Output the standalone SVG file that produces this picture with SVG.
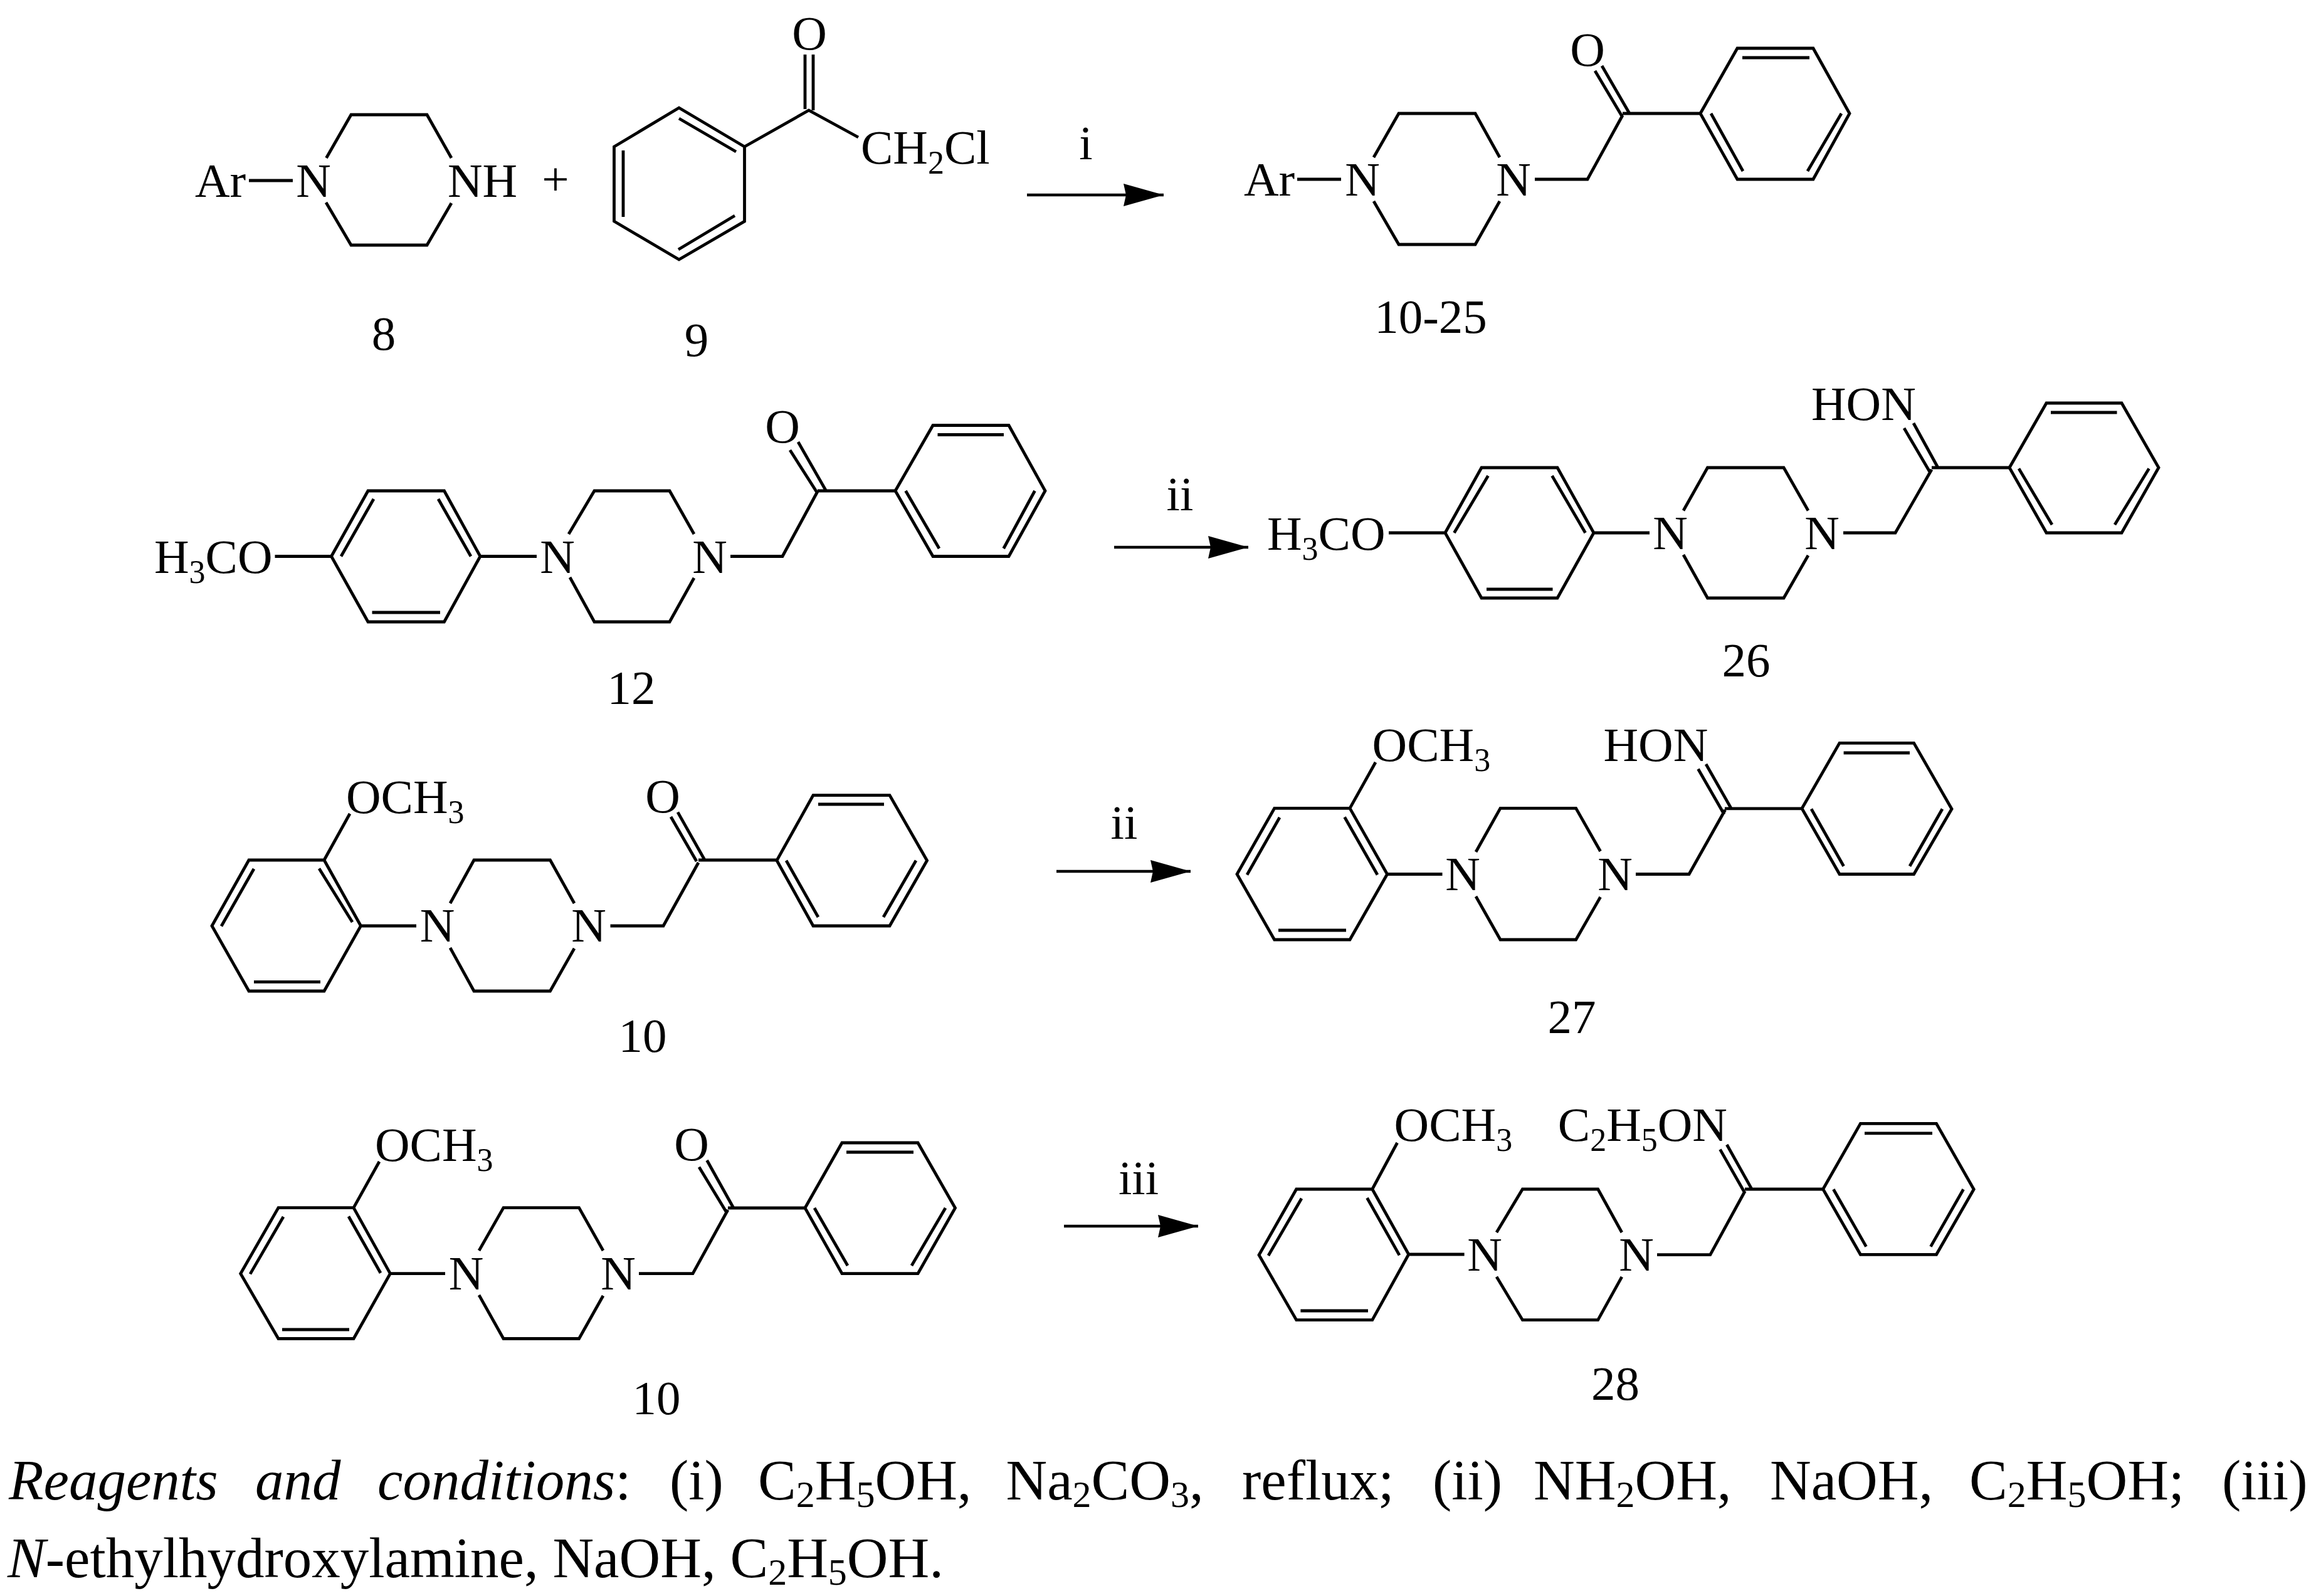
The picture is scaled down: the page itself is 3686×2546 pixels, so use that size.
<svg xmlns="http://www.w3.org/2000/svg" width="3686" height="2546" viewBox="0 0 3686 2546">
<style>
text{font-family:"Liberation Serif","Times New Roman",serif;font-size:77px;fill:#000}
.m{text-anchor:middle}
.s{font-size:52px}
.c{font-size:91px}
.cs{font-size:60px}
.i{font-style:italic}
.b{fill:none;stroke:#000;stroke-width:4.8;stroke-linejoin:miter}
.a{fill:none;stroke:#000;stroke-width:4.6}
</style>
<defs>
<marker id="h" markerUnits="userSpaceOnUse" markerWidth="66" markerHeight="38" viewBox="0 0 66 38" refX="64" refY="18" orient="auto"><path d="M64 18L0 0L4 18L0 36Z" fill="#000"/></marker>
</defs>
<rect width="3686" height="2546" fill="#fff"/>
<g id="connectors">
<path class="a" d="M1638 311H1856" marker-end="url(#h)"/>
<path class="a" d="M1777 873H1991" marker-end="url(#h)"/>
<path class="a" d="M1685 1390H1899" marker-end="url(#h)"/>
<path class="a" d="M1697 1956H1911" marker-end="url(#h)"/>
<text class="m" x="1732" y="254">i</text>
<text class="m" x="1882" y="814">ii</text>
<text class="m" x="1793" y="1338">ii</text>
<text class="m" x="1816" y="1905">iii</text>
</g>
<g id="compound-8">
<path class="b" d="M397 288H467M520.500 252L560 183H681L720 252M520 323L560 391H681L720 324"/>
<text x="311" y="314">Ar</text>
<text class="m" x="500" y="314">N</text>
<text x="714" y="314">NH</text>
<text class="m" x="612" y="558">8</text>
</g>
<text id="plus" class="m" x="886" y="311">+</text>
<g id="compound-9">
<path class="b" d="M1083 172L1187.500 234V353L1083 414L979.500 353V234ZM1083 189L1174 242M994 240V346M1082 398L1172 344M1187.500 234L1290 176L1369 219M1284 87V174M1297 87V176"/>
<text class="m" x="1291" y="79">O</text>
<text x="1373" y="261">CH<tspan class="s" dy="16">2</tspan><tspan dy="-16">Cl</tspan></text>
<text class="m" x="1111" y="568">9</text>
</g>
<g id="compound-10-25">
<path class="b" d="M2069 286H2139M2191 251L2231 181H2353L2392 251M2191 321L2231 390H2353L2392 321M2448 286H2532L2588 184M2544 113L2588 187M2555 105L2599 181M2588 181H2712"/>
<path class="b" d="M2712 181L2771 77H2892L2950 181L2892 286H2771ZM2779 92H2886M2729 181L2780 273M2937 181L2883 273"/>
<text x="1984" y="312">Ar</text>
<text class="m" x="2173" y="312">N</text>
<text class="m" x="2414" y="312">N</text>
<text class="m" x="2532" y="105">O</text>
<text class="m" x="2282" y="531">10-25</text>
</g>
<g id="compound-12">
<path class="b" d="M438.500 887.500H528.500M528.500 887.500L587 783H708.500L766 887.500L708.500 992H587ZM596 796L544 887.500M699 796L751 887.500M593.500 977H702M766 887.500H856M907 852L948 783H1068L1107 852M909 921L948 992H1068L1107 922M1165 887.500H1248L1304 784M1260 718L1304 787M1273 705L1317 782M1304 783H1428"/>
<path class="b" d="M1428 783L1488 678.500H1609L1667 783L1609 887.500H1488ZM1495.500 693.500H1601M1444.500 783L1498 875M1650.500 783L1600.700 875"/>
<text x="246" y="914">H<tspan class="s" dy="16">3</tspan><tspan dy="-16">CO</tspan></text>
<text class="m" x="889" y="914">N</text>
<text class="m" x="1132" y="914">N</text>
<text class="m" x="1248" y="706">O</text>
<text class="m" x="1007" y="1123">12</text>
</g>
<g id="compound-26">
<path class="b" d="M2215 850H2305M2305 850L2363 746H2484L2542 850L2484 954H2363ZM2373.500 759L2319.400 850M2475.500 759L2528.600 850M2371 940H2476.500M2542 850H2631M2685 814.500L2723.500 746H2845L2884 814.500M2685 885L2723.500 954H2845L2884 886M2940 850H3023L3081 749M3037 683L3077.500 752M3052 675L3091 746M3081 746H3205"/>
<path class="b" d="M3205 746L3264 643H3384L3443 746L3384 850H3264ZM3271 658H3376.500M3220 747.500L3273 837M3427.600 747.500L3373 837"/>
<text x="2021" y="877">H<tspan class="s" dy="16">3</tspan><tspan dy="-16">CO</tspan></text>
<text class="m" x="2664" y="876">N</text>
<text class="m" x="2906" y="876">N</text>
<text x="2889" y="670">HON</text>
<text class="m" x="2785" y="1079">26</text>
</g>
<g id="compound-10-a">
<path class="b" d="M558 1298L517 1372M517 1372H397L338 1477L397 1581H517L575.500 1477ZM405 1386L353 1477.500M509 1385.500L562 1471M405 1566.400H511M575.500 1477H664M718 1441L756 1372H877.500L916 1441M718 1512L756 1581H877.500L916 1513M973.500 1477H1058L1114 1376M1070 1303L1111 1374M1081 1295.600L1123.500 1371M1114 1372H1239"/>
<path class="b" d="M1239 1372.700L1297 1268.600H1419L1478.600 1372.700L1419 1477H1297ZM1305 1283H1410M1254 1372.700L1305 1463M1461 1372.700L1409 1463"/>
<text x="552" y="1297">OCH<tspan class="s" dy="16">3</tspan></text>
<text class="m" x="697.500" y="1502">N</text>
<text class="m" x="939" y="1502">N</text>
<text class="m" x="1057" y="1296">O</text>
<text class="m" x="1025" y="1678">10</text>
</g>
<g id="compound-27">
<path class="b" d="M2194 1216L2153 1289.400M2153 1289.400H2032.700L1973 1394.500L2032.700 1499H2153L2212.600 1394.500ZM2041 1304L1989 1395.500M2144.600 1303.500L2197 1395.500M2039 1484H2147M2212.600 1394.500H2300.500M2354 1359L2393 1289.400H2513.600L2552.600 1358M2354 1430L2393 1499H2513.600L2552.600 1431M2609 1394.500H2694L2751.600 1292M2708.500 1226.700L2750 1299M2721 1219L2760.700 1288.700M2751 1289.800H2874"/>
<path class="b" d="M2874 1289.800L2934 1185.400H3052.600L3113 1290.500L3052.600 1394.500H2934ZM2940.600 1201H3046M2889 1290.500L2940.600 1381.700M3098 1290.500L3046 1381.700"/>
<text x="2188.600" y="1214">OCH<tspan class="s" dy="16">3</tspan></text>
<text x="2557.500" y="1214">HON</text>
<text class="m" x="2333" y="1420">N</text>
<text class="m" x="2576" y="1420">N</text>
<text class="m" x="2507" y="1648">27</text>
</g>
<g id="compound-10-b">
<path class="b" d="M605 1853L564 1926.600M564 1926.600H444L383.700 2031.700L444 2135.500H564L622.400 2031.700ZM452 1941L399 2032.400M556 1940.500L607 2030.700M450 2121H557M622.400 2031.700H710M764 1995L803 1926.600H923.500L962 1995M764 2066L803 2135.500H923.500L962 2067M1019 2031.700H1105L1161 1930M1115 1861.700L1158 1932.700M1127.600 1851L1169.400 1926M1161 1927H1284"/>
<path class="b" d="M1284 1927L1343 1823H1464L1523.500 1927L1464 2031.700H1343ZM1350 1838H1457M1299 1927L1352 2019M1508 1927L1454 2019"/>
<text x="598" y="1852">OCH<tspan class="s" dy="16">3</tspan></text>
<text class="m" x="743.500" y="2057">N</text>
<text class="m" x="986" y="2057">N</text>
<text class="m" x="1103" y="1851">O</text>
<text class="m" x="1047" y="2256">10</text>
</g>
<g id="compound-28">
<path class="b" d="M2228.600 1823L2188.800 1897M2188.800 1897H2067.700L2008 2002L2067.700 2105.700H2188.800L2246.800 2001ZM2076 1911.800L2023 2003M2180.500 1911L2232 2002.400M2074.400 2091H2182M2246.800 2001H2335.600M2387 1966L2428.400 1897H2548.700L2586.800 1966M2387 2036.800L2428.400 2105.700H2548.700L2586.800 2036.800M2643 2001.600H2727.800L2783.300 1900M2743.500 1833.600L2781.700 1900.800M2754.300 1826L2793.300 1895.600M2783 1897H2907.700"/>
<path class="b" d="M2907.700 1897L2967.400 1792.300H3088.500L3148.200 1897.300L3088.500 2001.300H2967.400ZM2974 1807.800H3082M2924.300 1897.300L2976.500 1988.600M3131.600 1897.300L3079.400 1988.600"/>
<text x="2223.600" y="1820">OCH<tspan class="s" dy="16">3</tspan></text>
<text x="2484.800" y="1820">C<tspan class="s" dy="16">2</tspan><tspan dy="-16">H</tspan><tspan class="s" dy="16">5</tspan><tspan dy="-16">ON</tspan></text>
<text class="m" x="2368" y="2027">N</text>
<text class="m" x="2610" y="2027">N</text>
<text class="m" x="2576.500" y="2233">28</text>
</g>
<g id="caption">
<text class="c i" x="14" y="2392">Reagents</text>
<text class="c i" x="407" y="2392">and</text>
<text class="c" x="602" y="2392"><tspan class="i">conditions</tspan>:</text>
<text class="c" x="1068" y="2392">(i)</text>
<text class="c" x="1209" y="2392">C<tspan class="cs" dy="12">2</tspan><tspan dy="-12">H</tspan><tspan class="cs" dy="12">5</tspan><tspan dy="-12">OH,</tspan></text>
<text class="c" x="1604.500" y="2392">Na<tspan class="cs" dy="12">2</tspan><tspan dy="-12">CO</tspan><tspan class="cs" dy="12">3</tspan><tspan dy="-12">,</tspan></text>
<text class="c" x="1981" y="2392">reflux;</text>
<text class="c" x="2285" y="2392">(ii)</text>
<text class="c" x="2446" y="2392">NH<tspan class="cs" dy="12">2</tspan><tspan dy="-12">OH,</tspan></text>
<text class="c" x="2823" y="2392">NaOH,</text>
<text class="c" x="3141" y="2392">C<tspan class="cs" dy="12">2</tspan><tspan dy="-12">H</tspan><tspan class="cs" dy="12">5</tspan><tspan dy="-12">OH;</tspan></text>
<text class="c" x="3544" y="2392">(iii)</text>
<text class="c" x="12" y="2516"><tspan class="i">N</tspan>-ethylhydroxylamine, NaOH, C<tspan class="cs" dy="12">2</tspan><tspan dy="-12">H</tspan><tspan class="cs" dy="12">5</tspan><tspan dy="-12">OH.</tspan></text>
</g>
</svg>
